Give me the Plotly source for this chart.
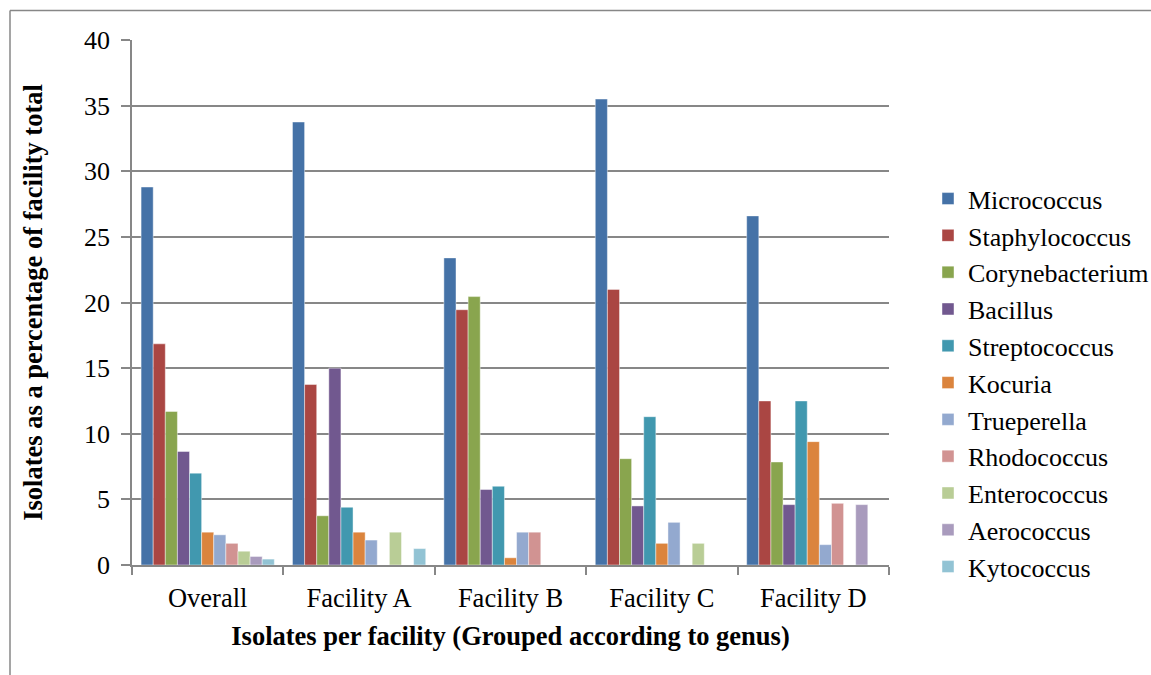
import plotly.graph_objects as go

# Facilities (x categories)
facilities = ["Overall", "Facility A", "Facility B", "Facility C", "Facility D"]

# Genus series: percentage of facility isolates
micrococcus = [28.8, 33.75, 23.4, 35.5, 26.6]
staphylococcus = [16.85, 13.75, 19.45, 21.0, 12.5]
corynebacterium = [11.7, 3.75, 20.45, 8.1, 7.85]
bacillus = [8.65, 15.0, 5.75, 4.5, 4.6]
streptococcus = [7.0, 4.4, 6.0, 11.3, 12.5]
kocuria = [2.5, 2.5, 0.55, 1.65, 9.4]
trueperella = [2.3, 1.9, 2.5, 3.25, 1.55]
rhodococcus = [1.65, 0, 2.5, 0, 4.7]
enterococcus = [1.05, 2.5, 0, 1.65, 0]
aerococcus = [0.65, 0, 0, 0, 4.6]
kytococcus = [0.45, 1.25, 0, 0, 0]

genera = ["Micrococcus", "Staphylococcus", "Corynebacterium", "Bacillus",
          "Streptococcus", "Kocuria", "Trueperella", "Rhodococcus",
          "Enterococcus", "Aerococcus", "Kytococcus"]
series = [micrococcus, staphylococcus, corynebacterium, bacillus,
          streptococcus, kocuria, trueperella, rhodococcus,
          enterococcus, aerococcus, kytococcus]
colors = ["#4572A7", "#AA4643", "#89A54E", "#71588F", "#4198AF", "#DB843D",
          "#93A9CF", "#D19392", "#B9CD96", "#A99BBD", "#92C3D4"]

y_ticks = [0, 5, 10, 15, 20, 25, 30, 35, 40]

FONT = "Liberation Serif, Times New Roman, serif"
GRID = "#878787"

fig = go.Figure()
for name, vals, col in zip(genera, series, colors):
    fig.add_trace(go.Bar(
        x=facilities, y=vals, name=name,
        marker=dict(color=col, line=dict(color="rgba(255,255,255,0.55)", width=0.8)),
    ))

W, H = 1151, 675
L, R, T, B = 132, 262, 40, 109.5
pw, ph = W - L - R, H - T - B

def px_x(p):
    return (p - L) / pw

def px_y(p):
    return (H - B - p) / ph

fig.update_layout(
    width=W, height=H,
    margin=dict(l=L, r=R, t=T, b=B, autoexpand=False),
    paper_bgcolor="white", plot_bgcolor="white",
    barmode="group", bargap=0.12, bargroupgap=0,
    font=dict(family=FONT, color="black", size=26),
    legend=dict(
        x=px_x(928), y=px_y(383), xanchor="left", yanchor="middle",
        font=dict(size=26, family=FONT), traceorder="normal",
        bgcolor="rgba(0,0,0,0)", itemwidth=30,
    ),
    xaxis=dict(
        showline=True, linecolor=GRID, linewidth=1.5,
        ticks="outside", tickson="boundaries", ticklen=8, tickcolor=GRID,
        tickwidth=1.5, tickfont=dict(size=26.5), ticklabelstandoff=8,
        title=dict(text="<b>Isolates per facility (Grouped according to genus)</b>",
                   font=dict(size=26.5), standoff=15),
    ),
    yaxis=dict(
        range=[0, 40], tickvals=y_ticks, showgrid=True, gridcolor=GRID,
        gridwidth=1.5, showline=True, linecolor=GRID, linewidth=1.5,
        ticks="outside", ticklen=9, tickcolor=GRID, tickwidth=1.5,
        tickfont=dict(size=26), zeroline=False, ticklabelstandoff=6,
        title=dict(text="<b>Isolates as a percentage of facility total</b>",
                   font=dict(size=26.5), standoff=34),
    ),
    shapes=[
        # chart-area frame (top and left edges visible)
        dict(type="line", xref="paper", yref="paper",
             x0=px_x(10), x1=px_x(1170), y0=px_y(10.5), y1=px_y(10.5),
             line=dict(color=GRID, width=1.5)),
        dict(type="line", xref="paper", yref="paper",
             x0=px_x(10), x1=px_x(10), y0=px_y(10.5), y1=px_y(690),
             line=dict(color=GRID, width=1.5)),
    ],
)

fig.write_html("out.html")
